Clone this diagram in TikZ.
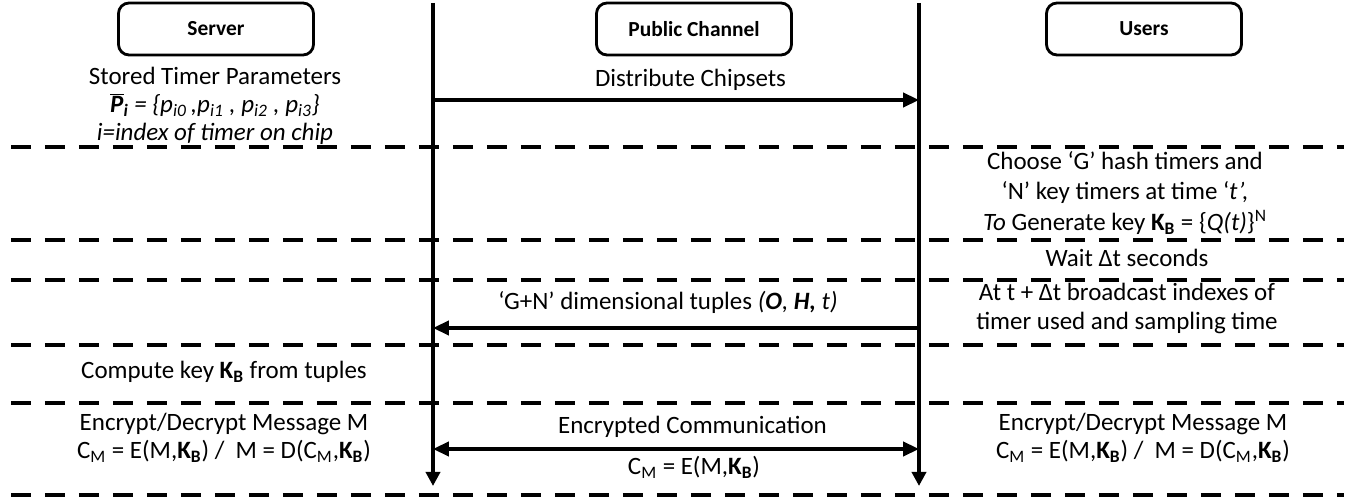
\documentclass[tikz,border=0pt]{standalone}
\usepackage{fontspec}
\setmainfont{Carlito}
\usetikzlibrary{arrows.meta}

\begin{document}
\begin{tikzpicture}[
    font=\fontsize{14.2}{16}\selectfont,
    box/.style={rectangle, rounded corners=6pt, draw=black, line width=1.6pt, minimum width=3.9cm, minimum height=1.04cm, font=\fontsize{12.2}{14}\selectfont\bfseries},
    txt/.style={align=center, inner sep=1pt},
    arr/.style={-{Triangle[length=9pt, width=8pt]}, line width=2pt},
    both/.style={{Triangle[length=9pt, width=8pt]}-{Triangle[length=9pt, width=8pt]}, line width=2pt},
    life/.style={-{Triangle[length=8pt, width=8pt]}, line width=2pt},
    sep/.style={line width=2.2pt, dash pattern=on 0.4cm off 0.28cm}
]
\useasboundingbox (0,0) rectangle (27.12,-10);

% Parties
\node[box] (server) at (4.32,-0.58) {Server};
\node[box] (channel) at (13.88,-0.58) {Public Channel};
\node[box] (users) at (22.88,-0.58) {Users};

% Step separators
\draw[sep] (0.22,-2.94) -- (26.88,-2.94);
\draw[sep] (0.22,-4.80) -- (26.88,-4.80);
\draw[sep] (0.22,-5.60) -- (26.88,-5.60);
\draw[sep] (0.22,-6.90) -- (26.88,-6.90);
\draw[sep] (0.22,-8.06) -- (26.88,-8.06);
\draw[sep] (0.22,-9.90) -- (26.88,-9.90);

% Lifelines on both sides of the channel
\coordinate (srvTop) at (8.66,-0.06);
\coordinate (srvEnd) at (8.66,-9.72);
\coordinate (usrTop) at (18.38,-0.06);
\coordinate (usrEnd) at (18.38,-9.72);
\draw[life] (srvTop) -- (srvEnd);
\draw[life] (usrTop) -- (usrEnd);

% Server side
\node[txt] (stored) at (4.3,-2.12) {Stored Timer Parameters\\
  \textit{$\overline{\hbox{\bfseries\itshape P}}$\textsubscript{\textbf{i}} = \{p\textsubscript{i0}\,,p\textsubscript{i1} , p\textsubscript{i2} , p\textsubscript{i3}\}}\\
  \textit{i=index of timer on chip}};
\node[txt] (compute) at (4.48,-7.44) {Compute key \textbf{K\textsubscript{B}} from tuples};
\node[txt] (encS) at (4.48,-8.75) {Encrypt/Decrypt Message M\\
  C\textsubscript{M} = E(M,\textbf{K\textsubscript{B}}) /~ M = D(C\textsubscript{M},\textbf{K\textsubscript{B}})};

% Users side
\node[txt] (choose) at (22.5,-3.86) {Choose ‘G’ hash timers and\\[1.5pt]
  ‘N’ key timers at time ‘\textit{t’,}\\[1.5pt]
  \textit{To} Generate key \textbf{K\textsubscript{B}} = \{\textit{Q(t)}\}\textsuperscript{N}};
\node[txt] (wait) at (22.54,-5.16) {Wait Δt seconds};
\node[txt] (bcast) at (22.54,-6.17) {At t + Δt broadcast indexes of\\ timer used and sampling time};
\node[txt] (encU) at (22.86,-8.75) {Encrypt/Decrypt Message M\\
  C\textsubscript{M} = E(M,\textbf{K\textsubscript{B}}) /~ M = D(C\textsubscript{M},\textbf{K\textsubscript{B}})};

% Messages over the channel
\coordinate (distS) at (8.66,-2.0);
\coordinate (distU) at (18.38,-2.0);
\draw[arr] (distS) -- (distU);
\node[txt] (distLbl) at (13.81,-1.6) {Distribute Chipsets};

\coordinate (tupU) at (18.38,-6.56);
\coordinate (tupS) at (8.66,-6.56);
\draw[arr] (tupU) -- (tupS);
\node[txt] (tupLbl) at (13.36,-6.04) {‘G+N’ dimensional tuples \textit{(\textbf{O}, \textbf{H,} t)}};

\coordinate (encL) at (8.66,-8.98);
\coordinate (encR) at (18.38,-8.98);
\draw[both] (encL) -- (encR);
\node[txt] (encLbl) at (13.85,-8.54) {Encrypted Communication};
\node[txt] (cmLbl) at (13.88,-9.34) {C\textsubscript{M} = E(M,\textbf{K\textsubscript{B}})};

\end{tikzpicture}
\end{document}
